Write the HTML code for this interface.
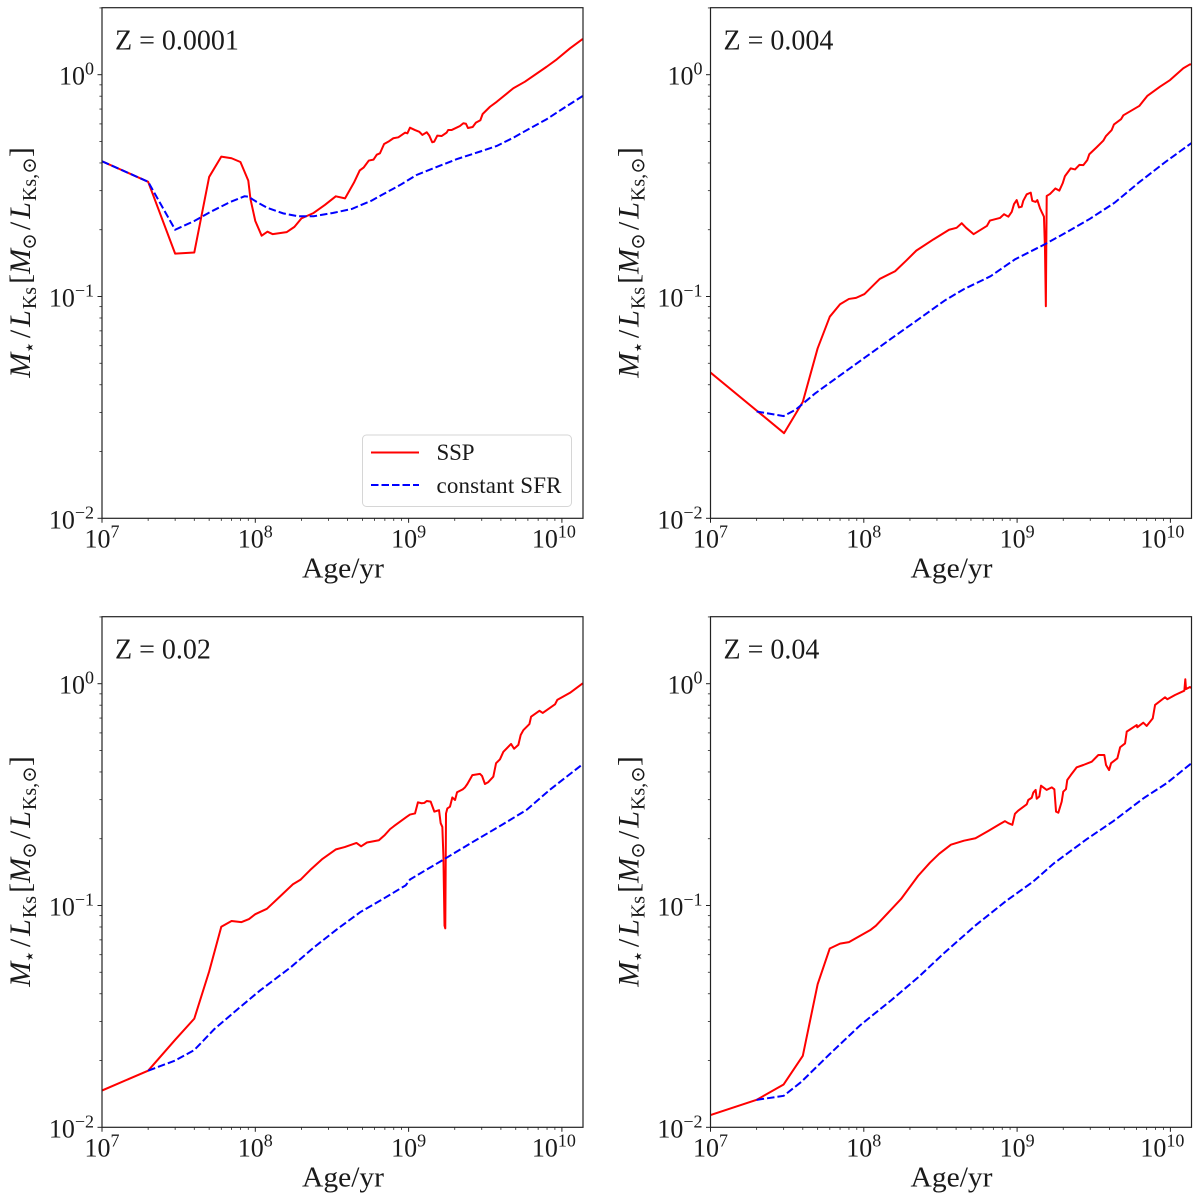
<!DOCTYPE html>
<html lang="en">
<head>
<meta charset="utf-8">
<title>Stellar mass-to-light ratio versus age</title>
<style>
html,body{margin:0;padding:0;background:#fff;width:1200px;height:1199px;overflow:hidden}
svg{display:block}
text{font-family:"Liberation Serif","DejaVu Serif",serif;fill:#1a1a1a;white-space:pre}
</style>
</head>
<body>
<svg id="figure" xmlns="http://www.w3.org/2000/svg" width="1200" height="1199" viewBox="0 0 1200 1199"></svg>
<script>
// Ages are in Myr; values are the Ks-band mass-to-light ratio in solar units.
const xTickLabels = ['7', '8', '9', '10'];
const yTickLabels = ['0', '−1', '−2'];
const legendLabels = ['SSP', 'constant SFR'];
const metallicities = ['Z = 0.0001', 'Z = 0.004', 'Z = 0.02', 'Z = 0.04'];

const sspAgeA = [10,20,30,40,50,60,70,80,90,93,100,110,120,130,160,180,200,240,285,335,385,440,480,510,550,590,620,650,692,738,795,857,948,982,1021,1101,1175,1230,1313,1365,1426,1469,1538,1641,1770,1812,1905,2163,2275,2366,2440,2618,2748,2938,3041,3396,3758,4823,5740,7950,9250,11300,13680];
const sspValA = [.407,.329,.156,.158,.346,.427,.42,.404,.333,.275,.219,.188,.196,.191,.195,.206,.225,.238,.259,.283,.277,.326,.37,.382,.41,.414,.436,.442,.487,.499,.517,.522,.548,.544,.577,.563,.553,.535,.55,.531,.496,.499,.531,.529,.548,.563,.563,.587,.604,.601,.575,.581,.608,.623,.665,.717,.755,.869,.93,1.086,1.172,1.315,1.449];
const sfrAgeA = [10,20,30,40,50,68,85,90,102,120,152,190,240,320,425,570,650,879,1127,1445,2056,2917,3758,4823,6194,7950,10210,13680];
const sfrValA = [.407,.329,.2,.219,.239,.266,.283,.282,.267,.251,.237,.23,.23,.238,.248,.27,.284,.318,.353,.378,.416,.45,.477,.52,.573,.63,.705,.802];

const sspAgeB = [10,30.2,40,50,60,70,80,89,101,127,160,190,220,285,360,403,435,465,520,635,665,773,822,877,923,955,994,1029,1071,1097,1156,1227,1256,1321,1355,1410,1445,1497,1520,1540,1550,1560,1640,1778,1885,1983,2052,2237,2387,2547,2704,2869,2958,3304,3648,3800,4140,4285,4764,4932,6266,7063,8551,9954,12140,13430,13730];
const sspValB = [.0454,.0242,.0335,.0584,.0811,.0923,.0975,.0986,.1026,.12,.13,.1456,.161,.181,.2,.204,.214,.204,.191,.208,.22,.226,.235,.229,.241,.261,.272,.252,.254,.27,.289,.294,.27,.267,.272,.25,.241,.229,.164,.0904,.164,.284,.29,.307,.3,.324,.349,.378,.374,.392,.391,.412,.438,.471,.504,.529,.563,.597,.63,.656,.723,.802,.883,.946,1.069,1.114,1.11];
const sfrAgeB = [20,30,36,48,67.5,101,151,226,338,450,670,968,1517,2052,2986,4335,6310,9226,13730];
const sfrValB = [.0303,.0289,.0309,.0365,.0433,.0529,.0646,.0787,.096,.108,.1233,.147,.172,.193,.224,.265,.329,.403,.492];

const sspAgeC = [10,20,30,40,50,60,70,81,91,100,119,144,176,197,228,272,336,383,457,490,535,640,700,757,803,972,1021,1101,1151,1216,1266,1313,1393,1472,1579,1619,1660,1687,1715,1735,1745,1754,1790,1862,1928,2009,2070,2254,2333,2417,2606,2924,3013,3148,3311,3569,3720,3945,4150,4660,4875,5200,5385,5610,6140,6295,7130,7500,9016,9330,11300,13680];
const sspValC = [.01465,.018,.0248,.0309,.0504,.0802,.0851,.0841,.0869,.0914,.0966,.1094,.1247,.1306,.1445,.1615,.1791,.1834,.1914,.1848,.1923,.1968,.208,.221,.228,.251,.257,.26,.292,.289,.29,.296,.294,.265,.269,.235,.226,.166,.0812,.0789,.147,.26,.274,.279,.307,.299,.324,.334,.341,.353,.387,.392,.384,.353,.36,.381,.438,.456,.493,.535,.509,.53,.587,.618,.658,.71,.755,.738,.807,.845,.91,1.004];
const sfrAgeC = [20,30,40,54,76,107,171,241,340,483,680,958,1021,1687,2642,4150,5890,8320,13450,13750];
const sfrValC = [.018,.02,.0223,.0277,.0339,.0413,.0528,.0647,.078,.0933,.107,.1233,.131,.161,.194,.233,.27,.332,.43,.436];

const sspAgeD = [10,20,30,40,50,60,70,80,110,120,175,226,270,310,370,450,535,650,773,834,877,931,968,1018,1156,1183,1245,1276,1321,1343,1396,1432,1560,1682,1750,1795,1858,1954,2000,2084,2124,2238,2449,2704,3069,3388,3707,3802,3981,4102,4510,4700,5060,5190,6030,6080,6656,7000,7670,7945,9226,9550,10720,12330,12510,12640,13430,13730];
const sspValD = [.01135,.0133,.0156,.021,.0442,.064,.0673,.0684,.0774,.0811,.107,.136,.156,.171,.188,.196,.201,.217,.233,.24,.235,.231,.259,.268,.286,.299,.306,.323,.332,.303,.31,.347,.332,.341,.334,.265,.262,.294,.326,.335,.368,.387,.42,.43,.445,.477,.477,.43,.408,.438,.461,.517,.538,.608,.651,.636,.667,.645,.698,.802,.869,.851,.889,.93,1.047,.946,.966,.956];
const sfrAgeD = [20,30,39,60,95,151,226,338,535,850,1270,1740,2845,4240,6656,9460,13730];
const sfrValD = [.0133,.01386,.016,.0214,.0289,.0374,.0474,.0615,.0813,.105,.128,.155,.199,.24,.304,.356,.438];

const SVG_NS = 'http://www.w3.org/2000/svg';
const figure = document.getElementById('figure');
const X_DECADE = 153.3;
const Y_DECADE = 221.8;
const PLOT_WIDTH = 481;
const PLOT_HEIGHT = 510.6;
const Y_LABEL = '<tspan font-style="italic">M</tspan><tspan font-size="20" dy="6" dx="-1">⋆</tspan><tspan dy="-6" dx="3">/</tspan><tspan font-style="italic" dx="3">L</tspan><tspan font-size="20" dy="6" dx="1">Ks</tspan><tspan dy="-6" dx="3">[</tspan><tspan font-style="italic">M</tspan><tspan font-size="20" dy="6" dx="-1">⊙</tspan><tspan dy="-6" dx="3">/</tspan><tspan font-style="italic" dx="3">L</tspan><tspan font-size="20" dy="6" dx="1">Ks,⊙</tspan><tspan dy="-6">]</tspan>';

function create(parent, tag, attrs) {
  const el = document.createElementNS(SVG_NS, tag);
  for (const key in attrs) el.setAttribute(key, attrs[key]);
  parent.appendChild(el);
  return el;
}
function xAxis(left, ageMyr) { return left + (Math.log10(ageMyr) - 1) * X_DECADE; }
function yAxis(bottom, value) { return bottom - (Math.log10(value) + 2) * Y_DECADE; }
function pathFor(left, bottom, ages, values) {
  return ages.map((a, i) => (i ? 'L' : 'M') + xAxis(left, a).toFixed(2) + ' ' + yAxis(bottom, values[i]).toFixed(2)).join('');
}

function drawPanel(id, left, top, label, sspAge, sspVal, sfrAge, sfrVal, withLegend) {
  const right = left + PLOT_WIDTH;
  const bottom = top + PLOT_HEIGHT;
  const panel = create(figure, 'g', {});
  
  

  const clipId = 'clip-' + id;
  const defs = create(panel, 'defs', {});
  const clip = create(defs, 'clipPath', { id: clipId });
  create(clip, 'rect', { x: left, y: top, width: PLOT_WIDTH, height: PLOT_HEIGHT });

  const ssp = create(panel, 'path', { d: pathFor(left, bottom, sspAge, sspVal), fill: 'none', stroke: '#ff0000', 'stroke-width': 2, 'stroke-linejoin': 'round', 'clip-path': 'url(#' + clipId + ')' });
  
  
  const sfr = create(panel, 'path', { d: pathFor(left, bottom, sfrAge, sfrVal), fill: 'none', stroke: '#0000ff', 'stroke-width': 2, 'stroke-dasharray': '7.5 3', 'clip-path': 'url(#' + clipId + ')' });
  
  

  const frame = create(panel, 'rect', { x: left, y: top, width: PLOT_WIDTH, height: PLOT_HEIGHT, fill: 'none', stroke: '#222', 'stroke-width': 1.2 });
  
  

  xTickLabels.forEach((exp, i) => {
    const base = Math.pow(10, i + 1);
    for (let m = 1; m < 10; m++) {
      const x = xAxis(left, base * m);
      if (x > right + 0.5) break;
      const tick = create(panel, 'line', { x1: x, x2: x, y1: bottom, y2: bottom + (m === 1 ? 4.5 : 2.6), stroke: '#222', 'stroke-width': m === 1 ? 1 : 0.8 });
      
      
    }
    const cx = xAxis(left, base);
    const tx = i === 3 ? cx - 8 : cx;
    const tickText = create(panel, 'text', { x: tx, y: bottom + 29, 'font-size': 26, 'text-anchor': 'middle' });
    
    
    tickText.innerHTML = '10<tspan font-size="18" dy="-10">' + exp + '</tspan>';
  });

  yTickLabels.forEach((exp, i) => {
    const base = Math.pow(10, -i);
    const y = yAxis(bottom, base);
    const tick = create(panel, 'line', { x1: left - 4.5, x2: left, y1: y, y2: y, stroke: '#222', 'stroke-width': 1 });
    
    
    const tickText = create(panel, 'text', { x: left - 8, y: y + 10, 'font-size': 26, 'text-anchor': 'end' });
    
    
    tickText.innerHTML = '10<tspan font-size="18" dy="-10">' + exp + '</tspan>';
  });
  [0.01, 0.1, 1].forEach(decade => {
    for (let m = 2; m < 10; m++) {
      const y = yAxis(bottom, decade * m);
      if (y < top) break;
      const minor = create(panel, 'line', { x1: left - 2.6, x2: left, y1: y, y2: y, stroke: '#222', 'stroke-width': 0.8 });
      
      
    }
  });

  const xTitle = create(panel, 'text', { x: left + 241, y: bottom + 59, 'font-size': 28, 'text-anchor': 'middle', textLength: 82, lengthAdjust: 'spacingAndGlyphs' });
  
  
  xTitle.textContent = 'Age/yr';

  const yTitle = create(panel, 'text', { transform: 'translate(' + (left - 72) + ',' + (top + 370) + ') rotate(-90)', 'font-size': 30 });
  
  
  yTitle.innerHTML = Y_LABEL;

  const note = create(panel, 'text', { x: left + 13, y: top + 42, 'font-size': 28 });
  
  
  note.textContent = label;

  if (withLegend) {
    const legend = create(panel, 'g', {});
    
    
    const box = create(legend, 'rect', { x: 362.5, y: 435, width: 209, height: 71.5, rx: 4, fill: '#fff', 'fill-opacity': 0.85, stroke: '#d6d6d6', 'stroke-width': 1 });
    
    
    const swatchA = create(legend, 'line', { x1: 371, x2: 419, y1: 452.5, y2: 452.5, stroke: '#ff0000', 'stroke-width': 2 });
    
    
    const swatchB = create(legend, 'line', { x1: 371, x2: 419, y1: 485, y2: 485, stroke: '#0000ff', 'stroke-width': 2, 'stroke-dasharray': '7.5 3' });
    
    
    const textA = create(legend, 'text', { x: 436.5, y: 460, 'font-size': 23, textLength: 38, lengthAdjust: 'spacing' });
    
    
    textA.textContent = legendLabels[0];
    const textB = create(legend, 'text', { x: 436.5, y: 493, 'font-size': 23, textLength: 125, lengthAdjust: 'spacing' });
    
    
    textB.textContent = legendLabels[1];
  }
}

drawPanel('z-0001', 102, 7.7, metallicities[0], sspAgeA, sspValA, sfrAgeA, sfrValA, true);
drawPanel('z-004', 710.5, 7.7, metallicities[1], sspAgeB, sspValB, sfrAgeB, sfrValB, false);
drawPanel('z-02', 102, 616.7, metallicities[2], sspAgeC, sspValC, sfrAgeC, sfrValC, false);
drawPanel('z-04', 710.5, 616.7, metallicities[3], sspAgeD, sspValD, sfrAgeD, sfrValD, false);
</script>
</body>
</html>
